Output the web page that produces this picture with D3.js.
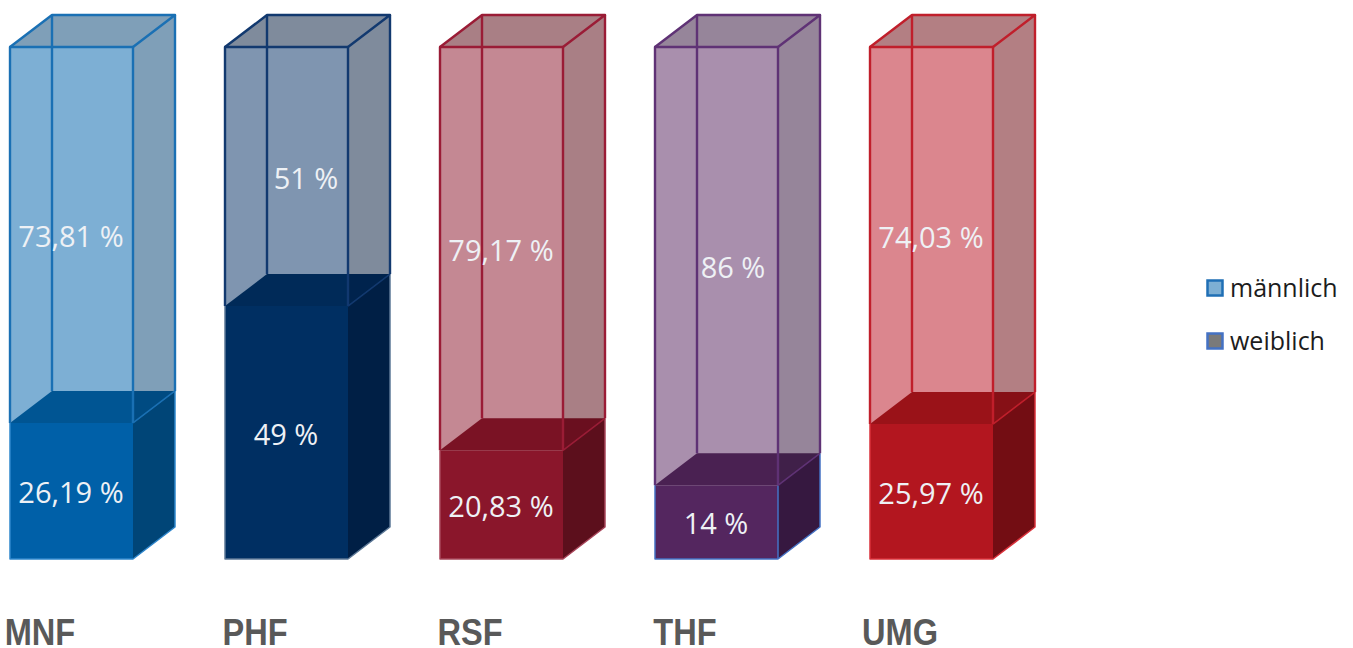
<!DOCTYPE html>
<html lang="de">
<head>
<meta charset="utf-8">
<title>Geschlechterverteilung nach Fakultät</title>
<script src="https://cdnjs.cloudflare.com/ajax/libs/d3/7.8.5/d3.min.js"></script>
<style>
  html, body { margin: 0; padding: 0; background: #fff; overflow: hidden; }
  svg { display: block; }
  .value { font-family: "Open Sans", "Noto Sans", sans-serif; font-weight: 400; font-size: 29px; fill: #eef1f5; text-anchor: middle; }
  .cat { font-family: "Liberation Sans", sans-serif; font-weight: 700; font-size: 37px; fill: #595959; text-anchor: middle; }
  .legend { font-family: "Open Sans", "Noto Sans", sans-serif; font-size: 25px; fill: #1c1c1c; }
</style>
</head>
<body>
<script>
// Faculties and the share of each gender (percent)
const faculties = ["MNF", "PHF", "RSF", "THF", "UMG"];
const maleShare = [73.81, 51, 79.17, 86, 74.03];
const femaleShare = [26.19, 49, 20.83, 14, 25.97];

// Palette per faculty
const frontLight = ["#7DAFD4", "#7F95B0", "#C48893", "#A98FAD", "#DB868E"];
const sideLight  = ["#7F9FB8", "#7F8B9C", "#A97F85", "#96859A", "#B37F83"];
const frontDark  = ["#0060A8", "#002F62", "#8A162B", "#54265F", "#B3161F"];
const sideDark   = ["#004577", "#001F45", "#5C0F1C", "#361840", "#730D13"];
const lidDark    = ["#005593", "#002A58", "#7A1224", "#4A2152", "#9A1218"];
const lidSide    = ["#004B82", "#00234D", "#6A0F1F", "#402049", "#861016"];
const edgeUpper  = ["#1A70B4", "#12396F", "#9A1C36", "#5F3275", "#C01F2B"];
const edgeLower  = ["#2E86CC", "#5C7896", "#A8455A", "#4472C4", "#D9303A"];

// Horizontal label nudges for the labels set off-centre
const maleNudge = [0, 20, 0, 17, 0];

const legendItems = ["männlich", "weiblich"];
const legendFill = ["#7DAFD4", "#7A7A7A"];
const legendEdge = ["#1F6FB5", "#4472C4"];

const width = 1353, height = 648;
const depthX = 42, depthY = -32;
const lidLift = 2;

const x = d3.scaleBand().domain(faculties).range([10, 993]).paddingInner(92 / 215);
const y = d3.scaleLinear().domain([0, 100]).range([559, 47]);

const svg = d3.select("body").append("svg").attr("width", width).attr("height", height);

const pct = v => (Number.isInteger(v) ? String(v) : d3.format(".2f")(v).replace(".", ",")) + " %";
const poly = pts => d3.line()(pts) + "Z";

faculties.forEach((name, i) => {
  const g = svg.append("g").attr("class", "bar");
  const x0 = x(name), x1 = x0 + x.bandwidth();
  const yTop = y(100), yBase = y(0), yCut = y(femaleShare[i]) - lidLift;
  const bx = v => v + depthX, by = v => v + depthY;

  const face = (pts, fill) => g.append("path").attr("d", poly(pts)).attr("fill", fill);
  const edge = (pts, colour, w = 2.4) => g.append("path").attr("d", d3.line()(pts))
    .attr("fill", "none").attr("stroke", colour).attr("stroke-width", w).attr("stroke-linejoin", "round");

  // Upper, translucent looking box
  face([[x0, yTop], [x1, yTop], [x1, yCut], [x0, yCut]], frontLight[i]);
  face([[x0, yTop], [bx(x0), by(yTop)], [bx(x1), by(yTop)], [x1, yTop]], sideLight[i]);
  face([[x1, yTop], [bx(x1), by(yTop)], [bx(x1), by(yCut)], [x1, yCut]], sideLight[i]);

  // Lower, solid box with its lid
  face([[x0, yCut], [x1, yCut], [x1, yBase], [x0, yBase]], frontDark[i]);
  face([[x1, yCut], [bx(x1), by(yCut)], [bx(x1), by(yBase)], [x1, yBase]], sideDark[i]);
  face([[x0, yCut], [bx(x0), by(yCut)], [x1, by(yCut)], [x1, yCut]], lidDark[i]);
  face([[x1, yCut], [x1, by(yCut)], [bx(x1), by(yCut)]], lidSide[i]);

  // Lower box outline
  edge([[x0, yCut], [x0, yBase], [x1, yBase], [bx(x1), by(yBase)], [bx(x1), by(yCut)]], edgeLower[i], 1.5);
  if (i === 3) edge([[x1, yCut], [x1, yBase]], edgeLower[i], 1.5);

  // Upper box wireframe
  edge([[x0, yCut], [x0, yTop], [x1, yTop], [x1, yCut]], edgeUpper[i]);
  edge([[x0, yTop], [bx(x0), by(yTop)], [bx(x1), by(yTop)], [x1, yTop]], edgeUpper[i]);
  edge([[bx(x0), by(yTop)], [bx(x0), by(yCut)]], edgeUpper[i]);
  edge([[bx(x1), by(yTop)], [bx(x1), by(yCut)]], edgeUpper[i]);
  edge([[x1, yCut], [bx(x1), by(yCut)]], edgeUpper[i], 1.5);
  edge([[x1, yCut], [x1, by(yCut)]], edgeUpper[i], 1.5);

  // Value labels, centred on each segment of the front face
  const cx = x0 + x.bandwidth() / 2 - 0.5;
  g.append("text").attr("class", "value")
    .attr("x", cx + maleNudge[i]).attr("y", (yTop + yCut) / 2 + 12).text(pct(maleShare[i]));
  g.append("text").attr("class", "value")
    .attr("x", cx).attr("y", (yCut + yBase) / 2 + 12).text(pct(femaleShare[i]));

  // Faculty name below the bar, squeezed to a condensed width
  g.append("text").attr("class", "cat")
    .attr("transform", `translate(${x0 + 30},645) scale(0.88,1)`).text(name);
});

// Legend
const legend = svg.append("g").selectAll("g").data(legendItems).join("g")
  .attr("transform", (d, i) => `translate(1206,${279 + i * 53})`);
legend.append("rect").attr("x", 1.5).attr("y", 1.5).attr("width", 15).attr("height", 15)
  .attr("fill", (d, i) => legendFill[i]).attr("stroke", (d, i) => legendEdge[i]).attr("stroke-width", 2.5);
legend.append("text").attr("class", "legend").attr("x", 24).attr("y", 18).text(d => d);
</script>
</body>
</html>
